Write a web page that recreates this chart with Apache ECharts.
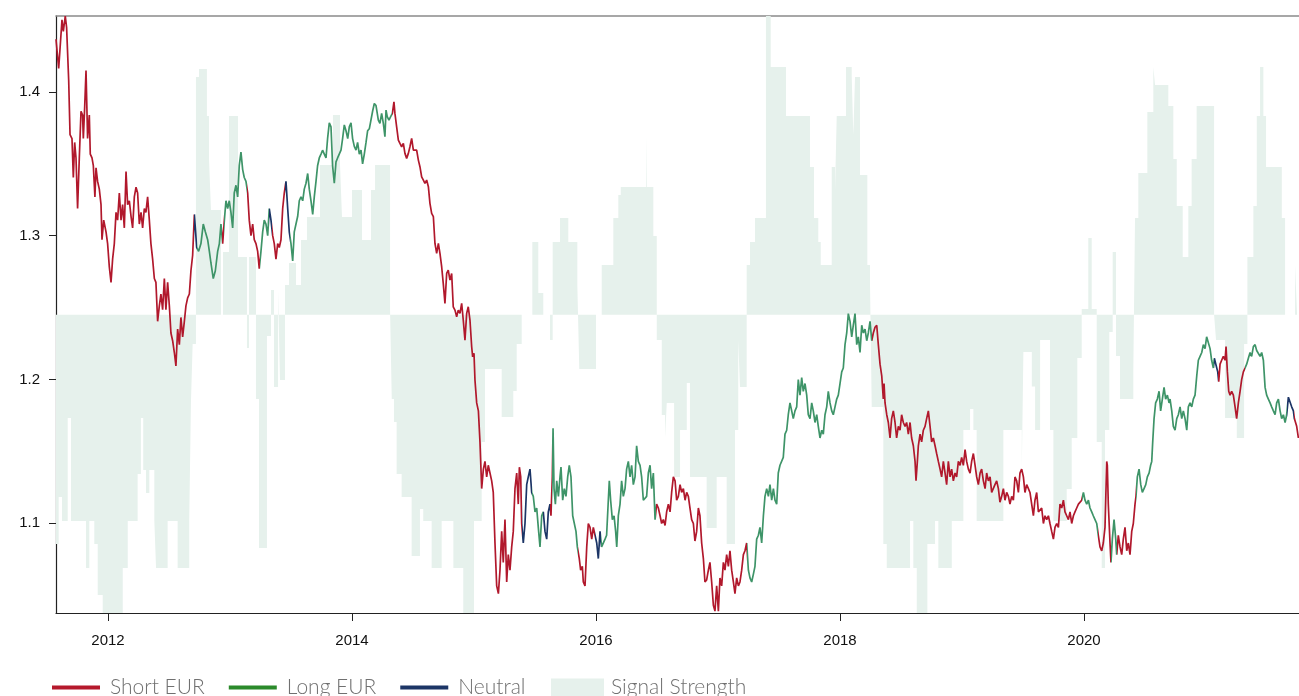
<!DOCTYPE html>
<html><head><meta charset="utf-8">
<script src="https://cdn.jsdelivr.net/npm/echarts@6/dist/echarts.min.js"></script>
<style>html,body{margin:0;padding:0;background:#fff}#c{width:1299px;height:696px}</style>
</head><body><div id="c"></div>
<script>
// ---- data (decimal years, EUR/USD) ----
const xTicks = [2012, 2014, 2016, 2018, 2020];
const yTicks = [1.1, 1.2, 1.3, 1.4];
const signalBase = 1.245;

const eurusd = [
[2011.574,1.4367],[2011.596,1.4164],[2011.623,1.4502],[2011.634,1.4421],[2011.650,1.4529],[2011.661,1.4448],[2011.678,1.4082],[2011.689,1.3703],[2011.705,1.3676],[2011.716,1.3405],[2011.727,1.3649],[2011.738,1.3541],[2011.751,1.3189],[2011.765,1.3541],[2011.779,1.3866],[2011.792,1.3839],[2011.798,1.3676],[2011.809,1.3893],[2011.820,1.4150],[2011.833,1.3676],[2011.847,1.3839],[2011.855,1.3568],[2011.869,1.3541],[2011.880,1.3487],[2011.893,1.3270],[2011.902,1.3473],[2011.915,1.3378],[2011.929,1.3324],[2011.943,1.3216],[2011.951,1.2972],[2011.965,1.3108],[2011.984,1.3027],[2011.997,1.2945],[2012.011,1.2783],[2012.025,1.2675],[2012.038,1.2837],[2012.052,1.2945],[2012.066,1.3162],[2012.079,1.3108],[2012.093,1.3297],[2012.107,1.3108],[2012.120,1.3216],[2012.134,1.3054],[2012.148,1.3446],[2012.161,1.3216],[2012.175,1.3243],[2012.189,1.3135],[2012.202,1.3054],[2012.216,1.3270],[2012.230,1.3338],[2012.243,1.3297],[2012.257,1.3081],[2012.271,1.3162],[2012.284,1.3054],[2012.298,1.3189],[2012.311,1.3162],[2012.325,1.3270],[2012.339,1.3108],[2012.352,1.2945],[2012.366,1.2837],[2012.380,1.2702],[2012.393,1.2675],[2012.407,1.2404],[2012.421,1.2512],[2012.434,1.2594],[2012.448,1.2485],[2012.462,1.2702],[2012.475,1.2485],[2012.489,1.2675],[2012.503,1.2512],[2012.516,1.2323],[2012.530,1.2269],[2012.544,1.2187],[2012.557,1.2093],[2012.571,1.2350],[2012.585,1.2242],[2012.598,1.2431],[2012.612,1.2296],[2012.626,1.2404],[2012.639,1.2512],[2012.653,1.2567],[2012.667,1.2594],[2012.680,1.2756],[2012.694,1.2864],[2012.708,1.3148],[2012.716,1.3054],[2012.727,1.2918],[2012.743,1.2891],[2012.762,1.2945],[2012.781,1.3081],[2012.798,1.3027],[2012.817,1.2972],[2012.831,1.2891],[2012.844,1.2810],[2012.863,1.2702],[2012.880,1.2756],[2012.899,1.2891],[2012.913,1.2945],[2012.926,1.3081],[2012.940,1.2945],[2012.954,1.3108],[2012.967,1.3243],[2012.981,1.3189],[2012.994,1.3243],[2013.008,1.3162],[2013.022,1.3054],[2013.035,1.3297],[2013.049,1.3351],[2013.063,1.3270],[2013.076,1.3487],[2013.090,1.3582],[2013.104,1.3460],[2013.117,1.3405],[2013.131,1.3378],[2013.145,1.3297],[2013.158,1.3108],[2013.172,1.3000],[2013.186,1.3081],[2013.199,1.2972],[2013.213,1.2945],[2013.227,1.2891],[2013.240,1.2770],[2013.254,1.2891],[2013.268,1.3027],[2013.281,1.3108],[2013.295,1.3081],[2013.309,1.3000],[2013.322,1.3189],[2013.336,1.3108],[2013.350,1.3000],[2013.363,1.2945],[2013.377,1.2837],[2013.391,1.2945],[2013.404,1.2918],[2013.418,1.2972],[2013.432,1.3189],[2013.445,1.3297],[2013.459,1.3378],[2013.473,1.3189],[2013.486,1.3027],[2013.500,1.2945],[2013.514,1.2824],[2013.527,1.3027],[2013.541,1.3081],[2013.555,1.3135],[2013.568,1.3243],[2013.582,1.3270],[2013.596,1.3243],[2013.609,1.3324],[2013.623,1.3365],[2013.637,1.3433],[2013.650,1.3324],[2013.664,1.3243],[2013.678,1.3148],[2013.691,1.3270],[2013.705,1.3378],[2013.718,1.3487],[2013.732,1.3541],[2013.746,1.3568],[2013.759,1.3595],[2013.773,1.3568],[2013.787,1.3541],[2013.800,1.3676],[2013.814,1.3785],[2013.828,1.3757],[2013.841,1.3487],[2013.855,1.3365],[2013.869,1.3514],[2013.882,1.3541],[2013.896,1.3541],[2013.910,1.3595],[2013.923,1.3676],[2013.937,1.3771],[2013.951,1.3730],[2013.965,1.3676],[2013.978,1.3757],[2013.992,1.3785],[2014.005,1.3676],[2014.019,1.3622],[2014.033,1.3595],[2014.046,1.3649],[2014.060,1.3568],[2014.074,1.3595],[2014.087,1.3500],[2014.101,1.3568],[2014.115,1.3649],[2014.128,1.3730],[2014.142,1.3744],[2014.156,1.3757],[2014.169,1.3866],[2014.183,1.3920],[2014.197,1.3906],
[2014.216,1.3805],[2014.229,1.3781],[2014.243,1.3851],[2014.257,1.3781],[2014.270,1.3689],[2014.279,1.3874],[2014.289,1.3828],[2014.303,1.3805],[2014.317,1.3828],[2014.331,1.3851],[2014.344,1.3932],[2014.352,1.3851],[2014.366,1.3758],[2014.380,1.3665],[2014.393,1.3642],[2014.407,1.3619],[2014.421,1.3642],[2014.434,1.3573],[2014.448,1.3538],[2014.462,1.3573],[2014.475,1.3619],[2014.489,1.3677],[2014.503,1.3596],[2014.516,1.3607],[2014.530,1.3596],[2014.544,1.3526],[2014.557,1.3480],[2014.571,1.3410],[2014.585,1.3387],[2014.598,1.3364],[2014.612,1.3387],[2014.626,1.3341],[2014.639,1.3225],[2014.653,1.3155],[2014.667,1.3132],[2014.680,1.2946],[2014.694,1.2877],[2014.708,1.2946],[2014.721,1.2877],[2014.735,1.2784],[2014.748,1.2668],[2014.762,1.2529],[2014.776,1.2737],[2014.789,1.2761],[2014.803,1.2691],[2014.817,1.2737],[2014.830,1.2505],[2014.844,1.2482],[2014.858,1.2436],[2014.871,1.2482],[2014.885,1.2459],[2014.899,1.2529],[2014.912,1.2413],[2014.926,1.2273],[2014.940,1.2459],[2014.953,1.2505],[2014.967,1.2413],[2014.981,1.2227],[2014.989,1.2157],[2015.000,1.2181],[2015.008,1.1995],
[2015.022,1.1836],[2015.036,1.1781],[2015.049,1.1565],[2015.063,1.1240],[2015.077,1.1375],[2015.090,1.1429],[2015.104,1.1321],[2015.117,1.1402],[2015.131,1.1348],[2015.145,1.1294],[2015.158,1.1213],[2015.172,1.0861],[2015.186,1.0563],[2015.200,1.0509],[2015.213,1.0672],[2015.227,1.0942],[2015.240,1.0726],[2015.254,1.1024],[2015.268,1.0590],[2015.281,1.0780],[2015.295,1.0672],[2015.309,1.0834],[2015.322,1.0942],[2015.336,1.1240],[2015.350,1.1348],[2015.363,1.1132],[2015.372,1.1389],[2015.383,1.1321],[2015.391,1.0997],[2015.404,1.0861],[2015.418,1.0997],[2015.432,1.1267],[2015.445,1.1321],[2015.459,1.1375],[2015.473,1.1213],[2015.486,1.1186],[2015.500,1.1078],[2015.514,1.1105],[2015.527,1.0970],[2015.541,1.0834],[2015.555,1.1051],[2015.568,1.1078],[2015.582,1.0942],[2015.596,1.0888],[2015.609,1.1078],[2015.623,1.1132],[2015.631,1.1051],[2015.642,1.1321],[2015.648,1.1660],[2015.656,1.1240],[2015.667,1.1132],[2015.678,1.1294],[2015.692,1.1186],[2015.705,1.1321],[2015.713,1.1389],[2015.727,1.1159],[2015.740,1.1240],[2015.754,1.1186],[2015.768,1.1321],[2015.781,1.1402],[2015.795,1.1321],[2015.809,1.1051],[2015.820,1.1051],[2015.836,1.0942],[2015.847,1.0834],[2015.863,1.0753],[2015.874,1.0672],[2015.888,1.0699],[2015.896,1.0590],[2015.910,1.0563],[2015.924,1.0834],[2015.937,1.0997],[2015.951,1.0970],[2015.965,1.0888],[2015.978,1.0970],[2015.992,1.0915],[2016.006,1.0861],[2016.019,1.0753],[2016.033,1.0942],[2016.046,1.0834],[2016.060,1.0834],[2016.074,1.0888],[2016.087,1.0915],[2016.101,1.1159],[2016.109,1.1294],[2016.120,1.1159],[2016.134,1.1024],[2016.148,1.1051],[2016.161,1.0942],[2016.170,1.0834],[2016.183,1.1051],[2016.197,1.1132],[2016.210,1.1294],[2016.224,1.1186],[2016.238,1.1240],[2016.251,1.1375],[2016.265,1.1429],[2016.279,1.1321],[2016.292,1.1402],[2016.306,1.1267],[2016.320,1.1321],[2016.333,1.1538],[2016.347,1.1429],[2016.361,1.1402],[2016.374,1.1321],[2016.388,1.1159],[2016.402,1.1159],[2016.415,1.1186],[2016.429,1.1348],[2016.443,1.1402],[2016.456,1.1240],[2016.470,1.1348],[2016.484,1.1024],[2016.497,1.1132],[2016.511,1.1105],[2016.525,1.1051],[2016.538,1.0997],[2016.552,1.1024],[2016.566,1.0983],[2016.579,1.1078],[2016.593,1.1132],[2016.607,1.1078],[2016.620,1.1213],[2016.634,1.1321],[2016.648,1.1294],[2016.661,1.1159],[2016.675,1.1186],[2016.689,1.1267],
[2016.702,1.1213],[2016.716,1.1240],[2016.730,1.1159],[2016.743,1.1213],[2016.757,1.1186],[2016.770,1.1105],[2016.784,1.1024],[2016.798,1.0997],[2016.811,1.0875],[2016.825,1.0942],[2016.839,1.1105],[2016.852,1.1051],[2016.866,1.0861],[2016.880,1.0753],[2016.893,1.0590],[2016.907,1.0604],[2016.921,1.0672],[2016.934,1.0726],[2016.948,1.0590],[2016.962,1.0428],[2016.975,1.0387],[2016.989,1.0563],[2017.003,1.0387],[2017.016,1.0618],[2017.030,1.0563],[2017.044,1.0726],[2017.057,1.0672],[2017.071,1.0780],[2017.085,1.0699],[2017.098,1.0807],[2017.112,1.0672],[2017.126,1.0590],[2017.139,1.0509],[2017.153,1.0618],[2017.167,1.0563],[2017.180,1.0590],[2017.194,1.0672],[2017.208,1.0780],[2017.221,1.0807],[2017.235,1.0861],[2017.249,1.0672],[2017.262,1.0618],[2017.276,1.0590],[2017.290,1.0645],[2017.303,1.0699],[2017.317,1.0888],[2017.331,1.0915],[2017.344,1.0970],[2017.358,1.0861],[2017.372,1.1051],[2017.385,1.1186],[2017.399,1.1240],[2017.413,1.1186],[2017.426,1.1267],[2017.440,1.1159],[2017.454,1.1240],[2017.467,1.1159],[2017.481,1.1132],[2017.494,1.1348],[2017.508,1.1402],[2017.522,1.1402],[2017.535,1.1457],[2017.549,1.1619],[2017.563,1.1646],[2017.576,1.1754],[2017.590,1.1836],[2017.604,1.1781],[2017.617,1.1727],[2017.631,1.1781],[2017.645,1.1809],[2017.658,1.1998],[2017.672,1.1890],[2017.686,1.2012],[2017.699,1.1917],[2017.713,1.1971],[2017.727,1.1890],[2017.740,1.1754],[2017.754,1.1727],[2017.768,1.1836],[2017.781,1.1781],[2017.795,1.1700],[2017.809,1.1754],[2017.822,1.1673],[2017.836,1.1592],[2017.850,1.1646],[2017.863,1.1619],[2017.877,1.1754],[2017.891,1.1809],[2017.904,1.1917],[2017.918,1.1836],[2017.932,1.1781],[2017.945,1.1754],[2017.959,1.1809],[2017.973,1.1863],[2017.986,1.1890],[2018.000,1.1971],[2018.014,1.2052],[2018.027,1.2079],[2018.041,1.2242],[2018.055,1.2323],[2018.068,1.2458],[2018.082,1.2404],[2018.096,1.2296],[2018.109,1.2377],[2018.123,1.2458],[2018.137,1.2242],[2018.150,1.2296],[2018.164,1.2187],[2018.178,1.2377],[2018.191,1.2323],[2018.205,1.2350],[2018.219,1.2269],[2018.232,1.2323],[2018.246,1.2404],[2018.260,1.2269],[2018.273,1.2323],[2018.287,1.2363],[2018.301,1.2377],[2018.314,1.2242],[2018.328,1.2106],[2018.342,1.2025],[2018.355,1.1863],[2018.361,1.1971],[2018.369,1.1836],[2018.383,1.1754],[2018.396,1.1700],[2018.410,1.1592],[2018.423,1.1727],[2018.437,1.1781],[2018.451,1.1700],[2018.464,1.1592],[2018.478,1.1673],[2018.492,1.1646],[2018.505,1.1754],[2018.519,1.1700],[2018.533,1.1673],[2018.546,1.1700],[2018.560,1.1619],[2018.574,1.1700],[2018.587,1.1592],[2018.601,1.1538],[2018.615,1.1429],[2018.623,1.1294],[2018.634,1.1429],[2018.642,1.1538],[2018.656,1.1619],[2018.669,1.1565],[2018.683,1.1646],[2018.697,1.1673],[2018.710,1.1727],[2018.724,1.1781],[2018.738,1.1673],[2018.751,1.1565],[2018.765,1.1592],[2018.779,1.1538],[2018.792,1.1484],[2018.806,1.1429],[2018.820,1.1375],[2018.833,1.1321],[2018.847,1.1429],[2018.861,1.1348],[2018.874,1.1267],[2018.888,1.1429],[2018.902,1.1321],[2018.915,1.1375],[2018.929,1.1294],[2018.943,1.1348],[2018.956,1.1321],[2018.970,1.1429],[2018.984,1.1402],[2018.997,1.1457],[2019.011,1.1402],[2019.025,1.1511],[2019.038,1.1429],[2019.052,1.1375],[2019.066,1.1348],[2019.079,1.1429],[2019.093,1.1484],[2019.107,1.1402],[2019.120,1.1321],[2019.134,1.1267],[2019.148,1.1348],[2019.161,1.1375],[2019.175,1.1294],[2019.189,1.1240],[2019.202,1.1348],[2019.216,1.1294],[2019.230,1.1321],
[2019.243,1.1213],[2019.257,1.1213],[2019.270,1.1267],[2019.284,1.1294],[2019.298,1.1240],[2019.311,1.1145],[2019.325,1.1186],[2019.339,1.1240],[2019.352,1.1159],[2019.366,1.1213],[2019.380,1.1186],[2019.393,1.1132],[2019.407,1.1186],[2019.421,1.1159],[2019.434,1.1321],[2019.448,1.1294],[2019.462,1.1213],[2019.475,1.1348],[2019.489,1.1375],[2019.503,1.1321],[2019.516,1.1213],[2019.530,1.1267],[2019.544,1.1240],[2019.557,1.1213],[2019.571,1.1132],[2019.585,1.1051],[2019.598,1.1159],[2019.612,1.1213],[2019.626,1.1078],[2019.639,1.1078],[2019.653,1.1105],[2019.667,1.0997],[2019.680,1.1051],[2019.694,1.1024],[2019.708,1.1051],[2019.721,1.0997],[2019.735,1.0942],[2019.749,1.0888],[2019.762,1.0970],[2019.776,1.0997],[2019.790,1.0970],[2019.803,1.1132],[2019.817,1.1105],[2019.831,1.1159],[2019.844,1.1078],[2019.858,1.1051],[2019.872,1.1024],[2019.885,1.1078],[2019.899,1.0997],[2019.913,1.1051],[2019.926,1.1078],[2019.940,1.1105],[2019.954,1.1132],[2019.967,1.1132],[2019.981,1.1159],[2019.995,1.1213],[2020.008,1.1159],[2020.022,1.1132],[2020.036,1.1159],[2020.049,1.1105],[2020.063,1.1078],[2020.076,1.1051],[2020.090,1.1024],[2020.104,1.0997],[2020.117,1.0915],[2020.131,1.0834],[2020.145,1.0807],[2020.158,1.0861],[2020.172,1.0970],[2020.186,1.1429],[2020.191,1.1402],[2020.199,1.1132],[2020.213,1.0861],[2020.221,1.0726],[2020.232,1.0888],[2020.246,1.1024],[2020.260,1.0888],[2020.268,1.0780],[2020.281,1.0915],[2020.295,1.0834],[2020.309,1.0780],[2020.322,1.0888],[2020.336,1.0970],[2020.350,1.0807],[2020.363,1.0861],[2020.377,1.0780],[2020.391,1.0942],[2020.404,1.0997],[2020.418,1.1132],[2020.426,1.1186],[2020.437,1.1321],[2020.451,1.1375],[2020.465,1.1267],[2020.478,1.1213],[2020.492,1.1240],[2020.506,1.1267],[2020.519,1.1321],[2020.533,1.1348],[2020.546,1.1402],[2020.555,1.1429],[2020.563,1.1565],[2020.574,1.1727],[2020.587,1.1836],[2020.601,1.1863],[2020.615,1.1917],[2020.628,1.1781],[2020.642,1.1863],[2020.656,1.1944],[2020.669,1.1863],[2020.683,1.1890],[2020.697,1.1836],[2020.705,1.1863],[2020.719,1.1781],[2020.732,1.1673],[2020.746,1.1646],[2020.760,1.1727],[2020.773,1.1754],[2020.787,1.1809],[2020.801,1.1727],[2020.814,1.1781],[2020.828,1.1727],[2020.842,1.1646],[2020.855,1.1809],[2020.869,1.1836],[2020.883,1.1809],[2020.896,1.1863],[2020.910,1.1890],[2020.924,1.2025],[2020.937,1.2133],[2020.951,1.2160],[2020.965,1.2187],[2020.978,1.2242],[2020.992,1.2214],[2021.005,1.2296],[2021.019,1.2283],[2021.033,1.2214],[2021.046,1.2133],[2021.060,1.2079],[2021.068,1.2147],[2021.079,1.2160],[2021.096,1.2052],[2021.104,1.1984],[2021.115,1.2106],[2021.128,1.2133],[2021.142,1.2160],[2021.156,1.2133],[2021.164,1.2228],[2021.175,1.2052],[2021.186,1.1917],[2021.197,1.1890],[2021.210,1.1917],[2021.224,1.1890],[2021.238,1.1809],[2021.251,1.1727],[2021.265,1.1836],[2021.279,1.1917],[2021.292,1.1998],[2021.306,1.2052],[2021.320,1.2079],[2021.333,1.2106],[2021.347,1.2147],[2021.361,1.2187],[2021.374,1.2160],[2021.388,1.2228],[2021.402,1.2242],[2021.415,1.2201],[2021.429,1.2214],[2021.443,1.2160],[2021.456,1.2187],[2021.470,1.2133],[2021.484,1.1944],[2021.497,1.1890],[2021.511,1.1863],[2021.525,1.1836],[2021.538,1.1809],[2021.552,1.1781],[2021.566,1.1754],[2021.579,1.1836],[2021.593,1.1863],[2021.607,1.1781],[2021.620,1.1727],[2021.634,1.1754],[2021.648,1.1700],[2021.661,1.1754],[2021.675,1.1876],[2021.689,1.1863],[2021.702,1.1809],[2021.716,1.1781],[2021.724,1.1727],[2021.735,1.1714],[2021.743,1.1673],[2021.757,1.1592]
];

// step levels of the signal-strength band, drawn on the price scale around signalBase
const signalStrength = [
[2011.574,1.0854],[2011.596,1.1181],[2011.623,1.1014],[2011.670,1.1731],[2011.697,1.1014],[2011.820,1.0687],[2011.847,1.1014],[2011.888,1.0854],[2011.916,1.0499],[2011.957,1.030],[2012.121,1.0687],[2012.162,1.1014],[2012.243,1.1341],[2012.270,1.1731],[2012.289,1.1369],[2012.312,1.1209],[2012.339,1.1369],[2012.380,1.1014],[2012.394,1.0687],[2012.489,1.1014],[2012.571,1.0687],[2012.666,1.1014],[2012.680,1.1836],[2012.694,1.2246],[2012.721,1.4104],[2012.746,1.4160],[2012.811,1.3833],[2012.828,1.3534],[2012.844,1.3179],[2012.926,1.245],[2012.943,1.2886],[2012.992,1.3833],[2013.066,1.2852],[2013.139,1.2218],[2013.156,1.2852],[2013.213,1.1863],[2013.238,1.0827],[2013.303,1.2302],[2013.336,1.2622],[2013.361,1.1947],[2013.394,1.2622],[2013.410,1.1996],[2013.451,1.2657],[2013.484,1.2810],[2013.541,1.2657],[2013.582,1.2970],[2013.631,1.3130],[2013.738,1.3492],[2013.844,1.3840],[2013.902,1.3492],[2013.918,1.3130],[2014.000,1.3318],[2014.082,1.2970],[2014.156,1.3318],[2014.189,1.3492],[2014.312,1.2483],[2014.326,1.1863],[2014.344,1.1703],[2014.366,1.1341],[2014.407,1.1181],[2014.489,1.0771],[2014.557,1.1098],[2014.584,1.1014],[2014.653,1.0687],[2014.735,1.1014],[2014.831,1.0687],[2014.912,1.030],[2015.000,1.1014],[2015.063,1.1564],[2015.090,1.2072],[2015.227,1.1738],[2015.322,1.1919],[2015.350,1.2246],[2015.391,1.245],[2015.478,1.2956],[2015.527,1.2601],[2015.568,1.245],[2015.623,1.2274],[2015.645,1.2956],[2015.705,1.3123],[2015.773,1.2956],[2015.847,1.2657],[2015.863,1.2072],[2016.000,1.245],[2016.047,1.2796],[2016.142,1.3123],[2016.183,1.3283],[2016.203,1.3339],[2016.410,1.3694],[2016.416,1.3339],[2016.470,1.2998],[2016.498,1.2274],[2016.539,1.1752],[2016.566,1.1592],[2016.580,1.1836],[2016.640,1.1321],[2016.689,1.1648],[2016.744,1.1975],[2016.770,1.1321],[2016.907,1.0966],[2016.989,1.1321],[2017.071,1.0854],[2017.139,1.1648],[2017.166,1.2274],[2017.180,1.1947],[2017.235,1.2796],[2017.262,1.2956],[2017.303,1.3123],[2017.393,1.47],[2017.432,1.4174],[2017.557,1.3833],[2017.754,1.3478],[2017.787,1.3123],[2017.822,1.2956],[2017.842,1.2796],[2017.932,1.3478],[2017.959,1.3311],[2017.973,1.3833],[2018.049,1.4174],[2018.096,1.4104],[2018.109,1.37],[2018.123,1.4104],[2018.164,1.3422],[2018.224,1.2796],[2018.246,1.2657],[2018.260,1.1808],[2018.355,1.0854],[2018.383,1.0687],[2018.574,1.1014],[2018.601,1.0687],[2018.629,1.030],[2018.716,1.0854],[2018.779,1.1014],[2018.806,1.0687],[2018.916,1.1014],[2019.011,1.1648],[2019.066,1.1794],[2019.093,1.1648],[2019.120,1.1014],[2019.339,1.1648],[2019.490,1.1369],[2019.503,1.2190],[2019.572,1.1950],[2019.599,1.1648],[2019.640,1.2274],[2019.721,1.1648],[2019.749,1.1014],[2019.858,1.1237],[2019.899,1.1592],[2019.945,1.2149],[2019.981,1.2490],[2020.035,1.2984],[2020.063,1.2490],[2020.104,1.1564],[2020.145,1.0687],[2020.172,1.1648],[2020.207,1.2330],[2020.235,1.2886],[2020.262,1.2163],[2020.295,1.1863],[2020.404,1.2058],[2020.418,1.3123],[2020.445,1.3436],[2020.519,1.3861],[2020.568,1.4174],[2020.582,1.4048],[2020.691,1.3902],[2020.732,1.3534],[2020.760,1.3206],[2020.809,1.2852],[2020.855,1.3206],[2020.882,1.3534],[2020.923,1.3902],[2021.066,1.245],[2021.082,1.2274],[2021.156,1.1731],[2021.252,1.1592],[2021.312,1.2246],[2021.339,1.2852],[2021.388,1.3206],[2021.416,1.3833],[2021.443,1.4174],[2021.470,1.3833],[2021.492,1.3478],[2021.621,1.3123],[2021.648,1.245],[2021.730,1.2796],[2021.746,1.245],[2021.762,1.245]
];

// position regime: [start year, signal]
const positionChanges = [
[2011.5,'short'],[2012.708,'neutral'],[2012.730,'long'],[2012.932,'short'],[2012.948,'long'],[2013.142,'short'],[2013.246,'long'],[2013.320,'neutral'],[2013.344,'short'],[2013.450,'neutral'],[2013.490,'long'],[2014.330,'short'],[2015.390,'neutral'],[2015.475,'long'],[2015.565,'neutral'],[2015.620,'short'],[2015.643,'long'],[2015.855,'short'],[2015.995,'neutral'],[2016.045,'long'],[2016.490,'short'],[2017.235,'long'],[2018.260,'short'],[2019.980,'long'],[2020.117,'short'],[2020.221,'long'],[2020.268,'short'],[2020.426,'long'],[2021.068,'neutral'],[2021.096,'short'],[2021.320,'long'],[2021.660,'neutral'],[2021.724,'short']
];

const seriesNames = {short: 'Short EUR', long: 'Long EUR', neutral: 'Neutral'};
const lineColors = {short: '#b1182c', long: '#3e9468', neutral: '#1c3566'};
const legendColors = {short: '#b5192c', long: '#2b8a2b', neutral: '#1c3566'};
const areaColor = '#e6f1ec';

const pieces = positionChanges.map((p, i) => ({
  gte: p[0],
  lt: i + 1 < positionChanges.length ? positionChanges[i + 1][0] : 2100,
  color: lineColors[p[1]]
}));

const chart = echarts.init(document.getElementById('c'), null, {renderer: 'canvas'});
const legendText = {fontSize: 21, color: '#707070', fontFamily: 'Lato', fontWeight: 300, padding: [0, 0, 0, 5]};

const dummy = ['short', 'long', 'neutral'].map(k => ({
  name: seriesNames[k], type: 'line', data: [], symbol: 'none',
  itemStyle: {color: legendColors[k]}, lineStyle: {color: legendColors[k]}
}));

chart.setOption({
  animation: false,
  grid: {left: 56, right: 0, top: 16, bottom: 83, show: false},
  xAxis: [{
    type: 'value', min: 2011.574, max: 2021.762,
    axisLine: {show: true, onZero: false, lineStyle: {color: '#222', width: 1.2}},
    axisTick: {show: true, length: 8, customValues: xTicks, lineStyle: {color: '#222'}},
    axisLabel: {customValues: xTicks, formatter: v => String(Math.round(v)), fontSize: 15, color: '#111', margin: 20, fontFamily: 'Liberation Sans'},
    splitLine: {show: false}
  }, {
    type: 'value', position: 'top', min: 2011.574, max: 2021.762,
    axisLine: {show: true, onZero: false, lineStyle: {color: '#8a8a8a', width: 1.6}},
    axisTick: {show: false}, axisLabel: {show: false}, splitLine: {show: false}
  }],
  yAxis: {
    type: 'value', min: 1.0374, max: 1.4529,
    axisLine: {show: true, onZero: false, lineStyle: {color: '#222', width: 1.2}},
    axisTick: {show: true, length: 7, customValues: yTicks, lineStyle: {color: '#222'}},
    axisLabel: {customValues: yTicks, formatter: v => v.toFixed(1), fontSize: 15, color: '#111', margin: 16, fontFamily: 'Liberation Sans'},
    splitLine: {show: false}
  },
  visualMap: {type: 'piecewise', show: false, dimension: 0, seriesIndex: 1, pieces: pieces},
  legend: [
    {data: ['Short EUR', 'Long EUR', 'Neutral'], left: 52, top: 677, padding: 0, icon: 'rect', itemWidth: 48, itemHeight: 4, itemGap: 24, textStyle: legendText},
    {data: [{name: 'Signal Strength', itemStyle: {color: areaColor, borderWidth: 0}}], left: 551, top: 677, padding: 0, icon: 'rect', itemWidth: 53, itemHeight: 18, textStyle: Object.assign({}, legendText, {padding: [0, 0, 0, 2]})}
  ],
  series: [
    {name: 'Signal Strength', type: 'line', step: 'end', data: signalStrength, symbol: 'none', silent: true,
     lineStyle: {width: 0}, itemStyle: {color: areaColor}, areaStyle: {color: areaColor, opacity: 1, origin: signalBase}, z: 1},
    {name: 'EUR/USD', type: 'line', data: eurusd, symbol: 'none', lineStyle: {width: 1.7}, z: 3, silent: true},
    ...dummy
  ]
});
</script>
</body></html>
